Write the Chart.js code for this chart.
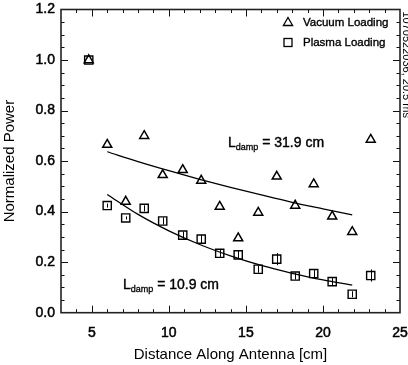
<!DOCTYPE html>
<html><head><meta charset="utf-8">
<script src="https://cdn.jsdelivr.net/npm/chart.js@4.4.0/dist/chart.umd.min.js"></script>
<style>html,body{margin:0;padding:0;background:#fff}#wrap{width:408px;height:365px}</style>
</head><body><div id="wrap"><canvas id="c" width="408" height="365"></canvas></div>
<script>
// ---- data ----
const positions   = [4.8, 6.0, 7.2, 8.4, 9.6, 10.9, 12.1, 13.3, 14.5, 15.8, 17.0, 18.2, 19.4, 20.6, 21.9, 23.1];
const vacuumPower = [1.0, 0.665, 0.44, 0.70, 0.545, 0.565, 0.523, 0.42, 0.295, 0.396, 0.539, 0.424, 0.509, 0.381, 0.32, 0.685];
const plasmaPower = [1.0, 0.424, 0.375, 0.413, 0.363, 0.307, 0.291, 0.235, 0.229, 0.172, 0.212, 0.145, 0.155, 0.123, 0.073, 0.147];
const plasmaErr   = [0.0, 0.008, 0.006, 0.012, 0.014, 0.014, 0.016, 0.014, 0.016, 0.014, 0.024, 0.014, 0.016, 0.014, 0.012, 0.024];
const fitX        = [6.0, 8.0, 10.0, 12.0, 14.0, 16.0, 18.0, 20.0, 21.9];
const vacuumFit   = [0.637, 0.598, 0.562, 0.528, 0.496, 0.466, 0.437, 0.411, 0.387];
const plasmaFit   = [0.468, 0.389, 0.324, 0.270, 0.225, 0.187, 0.156, 0.130, 0.109];
const xTicks = [5, 10, 15, 20, 25];
const yTicks = [0, 0.2, 0.4, 0.6, 0.8, 1.0, 1.2];
const legendLabels = ['Vacuum Loading', 'Plasma Loading'];
const dampValues = ['31.9', '10.9'];
const stampText = '1070522036, 20.5 ms';
const xTitle = 'Distance Along Antenna [cm]';
const yTitle = 'Normalized Power';

const FONT = "'Liberation Sans', Arial, Helvetica, sans-serif";
const toXY = (xs, ys) => xs.map((x, i) => ({x: x, y: ys[i]}));

function heavyText(ctx, s, x, y, w) {
  ctx.lineWidth = w;
  ctx.strokeText(s, x, y);
  ctx.fillText(s, x, y);
}

const decor = {
  id: 'decor',
  afterDraw(chart) {
    const ctx = chart.ctx, ca = chart.chartArea;
    const xs = chart.scales.x, ys = chart.scales.y;
    ctx.save();
    ctx.strokeStyle = '#111';
    ctx.lineWidth = 1;
    // inward ticks on all four sides
    ctx.beginPath();
    for (let v = 4; v <= 24; v++) {
      const px = Math.round(xs.getPixelForValue(v)) + 0.5;
      const len = (v % 5 === 0) ? 7 : 3.5;
      ctx.moveTo(px, ca.bottom); ctx.lineTo(px, ca.bottom - len);
      ctx.moveTo(px, ca.top); ctx.lineTo(px, ca.top + len);
    }
    for (let i = 1; i <= 23; i++) {
      const py = Math.round(ys.getPixelForValue(i * 0.05)) + 0.5;
      const len = (i % 4 === 0) ? 7 : 3.5;
      ctx.moveTo(ca.left, py); ctx.lineTo(ca.left + len, py);
      ctx.moveTo(ca.right, py); ctx.lineTo(ca.right - len, py);
    }
    ctx.stroke();
    // frame
    ctx.lineWidth = 1.6;
    ctx.strokeStyle = '#222';
    ctx.strokeRect(ca.left, ca.top, ca.right - ca.left, ca.bottom - ca.top);
    // error bars on plasma points
    ctx.lineWidth = 1;
    ctx.strokeStyle = '#000';
    ctx.beginPath();
    positions.forEach((x, i) => {
      if (!plasmaErr[i]) return;
      const px = Math.round(xs.getPixelForValue(x)) + 0.5;
      ctx.moveTo(px, ys.getPixelForValue(plasmaPower[i] - plasmaErr[i]));
      ctx.lineTo(px, ys.getPixelForValue(plasmaPower[i] + plasmaErr[i]));
    });
    ctx.stroke();
    // legend inside top right
    ctx.fillStyle = '#000';
    ctx.strokeStyle = '#000';
    ctx.textBaseline = 'middle';
    ctx.textAlign = 'left';
    const lx = ca.right - 112, ly1 = ca.top + 13, ly2 = ca.top + 33;
    ctx.lineWidth = 1.3;
    ctx.beginPath();
    ctx.moveTo(lx, ly1 - 5); ctx.lineTo(lx + 4.6, ly1 + 3); ctx.lineTo(lx - 4.6, ly1 + 3); ctx.closePath();
    ctx.stroke();
    ctx.strokeRect(lx - 4, ly2 - 4, 8, 8);
    ctx.font = '11.5px ' + FONT;
    heavyText(ctx, legendLabels[0], lx + 15, ly1, 0.35);
    heavyText(ctx, legendLabels[1], lx + 15, ly2, 0.35);
    // L_damp annotations
    const anchors = [[13.84, 0.672], [7.02, 0.11]];
    dampValues.forEach((val, i) => {
      let px = xs.getPixelForValue(anchors[i][0]);
      const py = ys.getPixelForValue(anchors[i][1]);
      ctx.font = '14px ' + FONT;
      heavyText(ctx, 'L', px, py, 0.4);
      px += ctx.measureText('L').width;
      ctx.font = '9px ' + FONT;
      heavyText(ctx, 'damp', px, py + 5, 0.3);
      px += ctx.measureText('damp').width;
      ctx.font = '14px ' + FONT;
      heavyText(ctx, ' = ' + val + ' cm', px, py, 0.4);
    });
    // rotated stamp at right edge (cut off)
    ctx.save();
    ctx.translate(403, ca.top + 2);
    ctx.rotate(Math.PI / 2);
    ctx.font = '11px ' + FONT;
    ctx.textBaseline = 'alphabetic';
    ctx.fillText(stampText, 0, 0);
    ctx.restore();
    ctx.restore();
  }
};

new Chart(document.getElementById('c'), {
  type: 'scatter',
  data: {
    datasets: [
      { label: legendLabels[0], data: toXY(positions, vacuumPower), pointStyle: 'triangle', pointRadius: 5.2,
        pointBorderColor: '#000', pointBackgroundColor: 'rgba(0,0,0,0)', pointBorderWidth: 1.5, showLine: false },
      { label: legendLabels[1], data: toXY(positions, plasmaPower), pointStyle: 'rect', pointRadius: 5.8,
        pointBorderColor: '#000', pointBackgroundColor: 'rgba(0,0,0,0)', pointBorderWidth: 1.4, showLine: false },
      { label: 'vfit', data: toXY(fitX, vacuumFit), showLine: true, pointRadius: 0, borderColor: '#000',
        borderWidth: 1.3, tension: 0.4, cubicInterpolationMode: 'monotone' },
      { label: 'pfit', data: toXY(fitX, plasmaFit), showLine: true, pointRadius: 0, borderColor: '#000',
        borderWidth: 1.3, tension: 0.4, cubicInterpolationMode: 'monotone' }
    ]
  },
  options: {
    responsive: false,
    animation: false,
    devicePixelRatio: 1,
    layout: { padding: { left: 0, right: 8, top: 9.5, bottom: 0 } },
    plugins: { legend: { display: false }, tooltip: { enabled: false } },
    scales: {
      x: {
        type: 'linear', min: 3, max: 25,
        afterBuildTicks: s => { s.ticks = xTicks.map(v => ({value: v})); },
        afterFit: s => { s.height = 52.3; s.paddingLeft = 0; s.paddingRight = 0; },
        grid: { display: false, drawTicks: false },
        border: { display: false },
        ticks: { color: '#000', font: { family: FONT, size: 14 }, padding: 12, maxRotation: 0,
                 textStrokeColor: '#000', textStrokeWidth: 0.5, callback: v => String(v) },
        title: { display: true, text: xTitle, color: '#000', font: { family: FONT, size: 15 }, padding: { top: 0, bottom: 1 } }
      },
      y: {
        type: 'linear', min: 0, max: 1.2,
        afterBuildTicks: s => { s.ticks = yTicks.map(v => ({value: v})); },
        afterFit: s => { s.width = 61; s.paddingTop = 0; s.paddingBottom = 0; },
        grid: { display: false, drawTicks: false },
        border: { display: false },
        ticks: { color: '#000', font: { family: FONT, size: 14 }, padding: 6,
                 textStrokeColor: '#000', textStrokeWidth: 0.5, callback: v => v.toFixed(1) },
        title: { display: true, text: yTitle, color: '#000', font: { family: FONT, size: 15 }, padding: { top: 1, bottom: 0 } }
      }
    }
  },
  plugins: [decor]
});
</script></body></html>
